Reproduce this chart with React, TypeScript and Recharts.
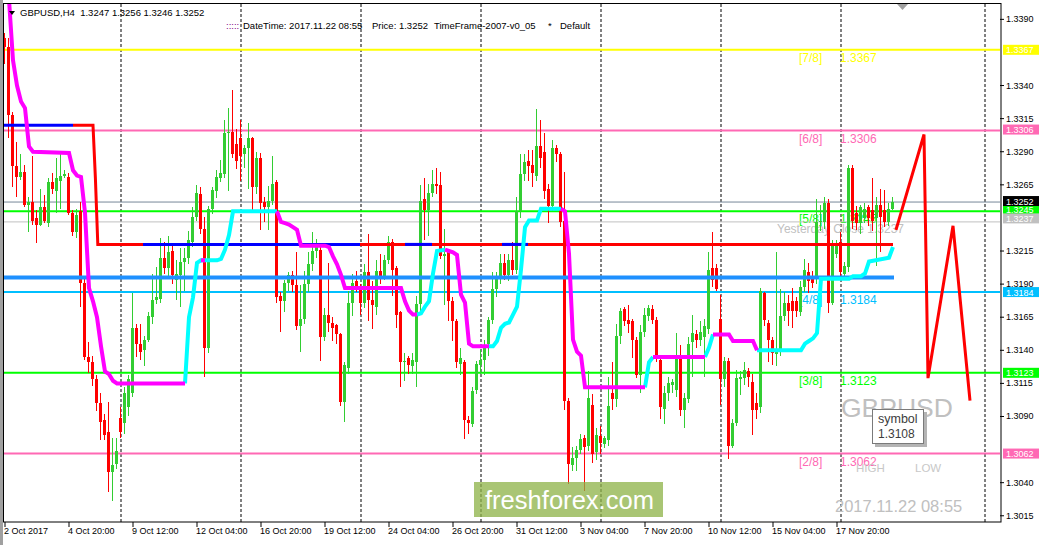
import React from "react";
import { ComposedChart, Bar, Line, XAxis, YAxis, ReferenceLine } from "recharts";

const W = 1043;
const H = 545;
const FONT = '"Liberation Sans", Arial, Helvetica, sans-serif';

// GBPUSD H4 bars from 2 Oct 2017 04:00, [open, high, low, close]
const candles: number[][] = [
  // 2 Oct
  [1.3376, 1.3380, 1.3356, 1.3369], [1.3369, 1.3376, 1.3300, 1.3318], [1.3318, 1.3320, 1.3263, 1.3279], [1.3279, 1.3297, 1.3256, 1.3271], [1.3271, 1.3288, 1.3269, 1.3275],
  // 3 Oct
  [1.3275, 1.3280, 1.3248, 1.3250], [1.3250, 1.3256, 1.3229, 1.3252], [1.3252, 1.3287, 1.3235, 1.3238], [1.3240, 1.3246, 1.3221, 1.3235], [1.3235, 1.3262, 1.3234, 1.3248], [1.3248, 1.3257, 1.3236, 1.3238],
  // 4 Oct
  [1.3236, 1.3270, 1.3233, 1.3267], [1.3267, 1.3274, 1.3258, 1.3262], [1.3260, 1.3285, 1.3244, 1.3270], [1.3268, 1.3288, 1.3247, 1.3272], [1.3272, 1.3276, 1.3270, 1.3273], [1.3271, 1.3274, 1.3242, 1.3244],
  // 5 Oct
  [1.3244, 1.3246, 1.3226, 1.3229], [1.3229, 1.3247, 1.3225, 1.3242], [1.3245, 1.3252, 1.3173, 1.3191], [1.3191, 1.3195, 1.3133, 1.3135], [1.3135, 1.3146, 1.3123, 1.3131], [1.3131, 1.3136, 1.3113, 1.3118],
  // 6 Oct
  [1.3118, 1.3121, 1.3094, 1.3100], [1.3100, 1.3108, 1.3072, 1.3086], [1.3087, 1.3092, 1.3072, 1.3076], [1.3078, 1.3101, 1.3033, 1.3048], [1.3048, 1.3074, 1.3026, 1.3053], [1.3054, 1.3074, 1.3050, 1.3064],
  // 9 Oct
  [1.3089, 1.3097, 1.3074, 1.3078], [1.3085, 1.3112, 1.3077, 1.3108], [1.3097, 1.3121, 1.3090, 1.3118], [1.3108, 1.3183, 1.3105, 1.3157], [1.3157, 1.3160, 1.3135, 1.3145], [1.3145, 1.3160, 1.3133, 1.3139],
  // 10 Oct
  [1.3140, 1.3151, 1.3128, 1.3148], [1.3148, 1.3169, 1.3146, 1.3166], [1.3165, 1.3198, 1.3160, 1.3178], [1.3178, 1.3203, 1.3175, 1.3180], [1.3179, 1.3225, 1.3176, 1.3210], [1.3210, 1.3222, 1.3198, 1.3202],
  // 11 Oct
  [1.3202, 1.3226, 1.3195, 1.3214], [1.3215, 1.3219, 1.3190, 1.3197], [1.3193, 1.3208, 1.3178, 1.3198], [1.3197, 1.3217, 1.3173, 1.3207], [1.3207, 1.3217, 1.3185, 1.3210], [1.3210, 1.3230, 1.3205, 1.3223],
  // 12 Oct
  [1.3222, 1.3248, 1.3218, 1.3241], [1.3241, 1.3265, 1.3238, 1.3259], [1.3258, 1.3263, 1.3228, 1.3232], [1.3232, 1.3241, 1.3120, 1.3142], [1.3142, 1.3249, 1.3138, 1.3247], [1.3247, 1.3263, 1.3243, 1.3261],
  // 13 Oct
  [1.3260, 1.3276, 1.3255, 1.3271], [1.3270, 1.3284, 1.3267, 1.3274], [1.3273, 1.3314, 1.3270, 1.3304], [1.3304, 1.3323, 1.3260, 1.3305], [1.3305, 1.3337, 1.3285, 1.3288], [1.3296, 1.3307, 1.3277, 1.3283],
  // 16 Oct
  [1.3300, 1.3314, 1.3268, 1.3287], [1.3288, 1.3295, 1.3278, 1.3293], [1.3293, 1.3312, 1.3262, 1.3300], [1.3300, 1.3301, 1.3246, 1.3263], [1.3263, 1.3290, 1.3258, 1.3285], [1.3285, 1.3289, 1.3231, 1.3251],
  // 17 Oct
  [1.3252, 1.3256, 1.3237, 1.3248], [1.3248, 1.3264, 1.3231, 1.3253], [1.3253, 1.3287, 1.3250, 1.3266], [1.3267, 1.3269, 1.3176, 1.3180], [1.3181, 1.3184, 1.3154, 1.3177], [1.3177, 1.3193, 1.3169, 1.3191],
  // 18 Oct
  [1.3191, 1.3199, 1.3185, 1.3197], [1.3197, 1.3200, 1.3184, 1.3189], [1.3189, 1.3214, 1.3155, 1.3158], [1.3158, 1.3189, 1.3139, 1.3164], [1.3164, 1.3200, 1.3160, 1.3190], [1.3190, 1.3214, 1.3184, 1.3205],
  // 19 Oct
  [1.3205, 1.3229, 1.3200, 1.3215], [1.3215, 1.3224, 1.3210, 1.3218], [1.3216, 1.3221, 1.3132, 1.3150], [1.3150, 1.3172, 1.3147, 1.3167], [1.3167, 1.3206, 1.3154, 1.3161], [1.3161, 1.3165, 1.3147, 1.3157],
  // 20 Oct
  [1.3159, 1.3160, 1.3145, 1.3152], [1.3152, 1.3153, 1.3098, 1.3101], [1.3101, 1.3131, 1.3086, 1.3129], [1.3127, 1.3185, 1.3122, 1.3176], [1.3176, 1.3198, 1.3166, 1.3191], [1.3192, 1.3200, 1.3184, 1.3188],
  // 23 Oct
  [1.3188, 1.3190, 1.3167, 1.3176], [1.3176, 1.3205, 1.3172, 1.3199], [1.3199, 1.3228, 1.3162, 1.3178], [1.3178, 1.3192, 1.3156, 1.3174], [1.3173, 1.3208, 1.3167, 1.3200], [1.3200, 1.3213, 1.3190, 1.3196],
  // 24 Oct
  [1.3196, 1.3212, 1.3193, 1.3208], [1.3208, 1.3226, 1.3205, 1.3222], [1.3222, 1.3224, 1.3181, 1.3201], [1.3202, 1.3204, 1.3157, 1.3167], [1.3169, 1.3170, 1.3112, 1.3131], [1.3131, 1.3138, 1.3117, 1.3132],
  // 25 Oct
  [1.3134, 1.3136, 1.3122, 1.3129], [1.3128, 1.3138, 1.3122, 1.3133], [1.3131, 1.3181, 1.3112, 1.3175], [1.3175, 1.3265, 1.3170, 1.3253], [1.3254, 1.3270, 1.3223, 1.3246], [1.3246, 1.3266, 1.3226, 1.3259],
  // 26 Oct
  [1.3259, 1.3276, 1.3256, 1.3266], [1.3266, 1.3278, 1.3258, 1.3264], [1.3265, 1.3275, 1.3209, 1.3211], [1.3211, 1.3232, 1.3174, 1.3213], [1.3214, 1.3216, 1.3162, 1.3177], [1.3177, 1.3180, 1.3147, 1.3162],
  // 27 Oct
  [1.3162, 1.3164, 1.3127, 1.3131], [1.3130, 1.3142, 1.3121, 1.3134], [1.3131, 1.3133, 1.3073, 1.3087], [1.3087, 1.3090, 1.3077, 1.3085], [1.3084, 1.3112, 1.3082, 1.3109], [1.3110, 1.3132, 1.3107, 1.3130],
  // 30 Oct
  [1.3129, 1.3140, 1.3122, 1.3133], [1.3133, 1.3148, 1.3121, 1.3143], [1.3145, 1.3165, 1.3136, 1.3163], [1.3163, 1.3199, 1.3160, 1.3186], [1.3186, 1.3199, 1.3180, 1.3194], [1.3196, 1.3213, 1.3190, 1.3206],
  // 31 Oct
  [1.3206, 1.3213, 1.3193, 1.3197], [1.3197, 1.3213, 1.3192, 1.3208], [1.3208, 1.3222, 1.3197, 1.3201], [1.3201, 1.3256, 1.3198, 1.3245], [1.3245, 1.3288, 1.3240, 1.3273], [1.3273, 1.3288, 1.3268, 1.3282],
  // 1 Nov
  [1.3283, 1.3291, 1.3268, 1.3279], [1.3280, 1.3291, 1.3263, 1.3274], [1.3272, 1.3322, 1.3268, 1.3294], [1.3294, 1.3314, 1.3278, 1.3285], [1.3290, 1.3304, 1.3254, 1.3260], [1.3262, 1.3266, 1.3236, 1.3249],
  // 2 Nov
  [1.3249, 1.3299, 1.3245, 1.3293], [1.3293, 1.3295, 1.3282, 1.3288], [1.3288, 1.3290, 1.3233, 1.3237], [1.3238, 1.3275, 1.3095, 1.3102], [1.3102, 1.3104, 1.3039, 1.3054], [1.3053, 1.3067, 1.3049, 1.3059],
  // 3 Nov
  [1.3059, 1.3068, 1.3049, 1.3065], [1.3065, 1.3077, 1.3062, 1.3073], [1.3074, 1.3076, 1.3034, 1.3067], [1.3068, 1.3124, 1.3064, 1.3104], [1.3099, 1.3107, 1.3055, 1.3062], [1.3063, 1.3081, 1.3057, 1.3076],
  // 6 Nov
  [1.3075, 1.3083, 1.3062, 1.3070], [1.3069, 1.3075, 1.3066, 1.3074], [1.3072, 1.3120, 1.3068, 1.3098], [1.3108, 1.3131, 1.3095, 1.3103], [1.3103, 1.3160, 1.3097, 1.3151], [1.3151, 1.3172, 1.3145, 1.3170],
  // 7 Nov
  [1.3171, 1.3173, 1.3158, 1.3162], [1.3163, 1.3174, 1.3153, 1.3160], [1.3162, 1.3164, 1.3134, 1.3148], [1.3148, 1.3150, 1.3119, 1.3121], [1.3121, 1.3159, 1.3108, 1.3154], [1.3154, 1.3172, 1.3150, 1.3167],
  // 8 Nov
  [1.3166, 1.3174, 1.3162, 1.3172], [1.3171, 1.3174, 1.3160, 1.3163], [1.3163, 1.3165, 1.3131, 1.3135], [1.3133, 1.3135, 1.3088, 1.3097], [1.3096, 1.3113, 1.3084, 1.3108], [1.3108, 1.3120, 1.3102, 1.3115],
  // 9 Nov
  [1.3114, 1.3118, 1.3108, 1.3116], [1.3110, 1.3153, 1.3105, 1.3136], [1.3136, 1.3144, 1.3090, 1.3095], [1.3095, 1.3108, 1.3081, 1.3104], [1.3103, 1.3150, 1.3100, 1.3145], [1.3146, 1.3167, 1.3120, 1.3153],
  // 10 Nov
  [1.3152, 1.3155, 1.3142, 1.3148], [1.3148, 1.3162, 1.3143, 1.3154], [1.3150, 1.3164, 1.3120, 1.3158], [1.3156, 1.3214, 1.3152, 1.3201], [1.3202, 1.3229, 1.3188, 1.3193], [1.3202, 1.3205, 1.3185, 1.3186],
  // 13 Nov
  [1.3164, 1.3182, 1.3099, 1.3118], [1.3118, 1.3135, 1.3112, 1.3132], [1.3132, 1.3134, 1.3058, 1.3068], [1.3068, 1.3088, 1.3066, 1.3085], [1.3085, 1.3125, 1.3083, 1.3119], [1.3118, 1.3124, 1.3106, 1.3120],
  // 14 Nov
  [1.3119, 1.3131, 1.3114, 1.3125], [1.3124, 1.3127, 1.3112, 1.3120], [1.3116, 1.3122, 1.3076, 1.3095], [1.3100, 1.3108, 1.3088, 1.3095], [1.3097, 1.3187, 1.3093, 1.3185], [1.3183, 1.3184, 1.3158, 1.3163],
  // 15 Nov
  [1.3161, 1.3163, 1.3131, 1.3148], [1.3148, 1.3150, 1.3129, 1.3138], [1.3137, 1.3214, 1.3128, 1.3140], [1.3139, 1.3186, 1.3136, 1.3166], [1.3166, 1.3184, 1.3162, 1.3176], [1.3176, 1.3182, 1.3158, 1.3170],
  // 16 Nov
  [1.3177, 1.3187, 1.3157, 1.3170], [1.3177, 1.3180, 1.3165, 1.3170], [1.3169, 1.3192, 1.3166, 1.3188], [1.3188, 1.3209, 1.3184, 1.3201], [1.3199, 1.3206, 1.3183, 1.3192], [1.3196, 1.3200, 1.3187, 1.3191],
  // 17 Nov
  [1.3194, 1.3254, 1.3190, 1.3237], [1.3237, 1.3250, 1.3230, 1.3238], [1.3237, 1.3256, 1.3232, 1.3251], [1.3251, 1.3254, 1.3168, 1.3176], [1.3176, 1.3223, 1.3174, 1.3221], [1.3213, 1.3223, 1.3210, 1.3219],
  // 20 Nov
  [1.3222, 1.3229, 1.3193, 1.3199], [1.3198, 1.3207, 1.3195, 1.3204], [1.3203, 1.3280, 1.3199, 1.3278], [1.3278, 1.3280, 1.3232, 1.3238], [1.3244, 1.3249, 1.3231, 1.3236], [1.3236, 1.3250, 1.3228, 1.3248],
  // 21 Nov
  [1.3240, 1.3251, 1.3236, 1.3247], [1.3248, 1.3250, 1.3234, 1.3240], [1.3246, 1.3270, 1.3230, 1.3238], [1.3240, 1.3256, 1.3204, 1.3250], [1.3250, 1.3262, 1.3214, 1.3241], [1.3246, 1.3261, 1.3233, 1.3237],
  // 22 Nov
  [1.3237, 1.3251, 1.3234, 1.3247], [1.3247, 1.3256, 1.3246, 1.3252],
];

const timeTicks = [0, 16, 32, 48, 64, 80, 96, 112, 128, 144, 160, 176, 192, 208];
const timeLabels = [
  "2 Oct 2017", "4 Oct 20:00", "9 Oct 12:00", "12 Oct 04:00", "16 Oct 20:00", "19 Oct 12:00", "24 Oct 04:00",
  "26 Oct 20:00", "31 Oct 12:00", "3 Nov 04:00", "7 Nov 20:00", "10 Nov 12:00", "15 Nov 04:00", "17 Nov 20:00",
];
const priceTicks = [1.3015, 1.304, 1.309, 1.3115, 1.314, 1.3165, 1.319, 1.3215, 1.3265, 1.329, 1.3315, 1.334, 1.339];
const weekStarts = [29, 59, 89, 119, 149, 179, 209, 245];

const murreyNames = ["[7/8]", "[6/8]", "[5/8]", "[4/8]", "[3/8]", "[2/8]"];
const murreyLevels = [1.3367, 1.3306, 1.3245, 1.3184, 1.3123, 1.3062];
const murreyColors = ["#ffff00", "#ff69b4", "#00ff00", "#00bfff", "#00ff00", "#ff69b4"];
const murreyTagShift = [0, -1, -2, 0, 0, 0];
const bidPrice = 1.3252;
const yesterdayClose = 1.3237;
const pivotLevel = 1.3195;

// supertrend, [bar, price] vertices
const trendDown: number[][][] = [
  [[0, 1.342], [1, 1.3405], [2, 1.3359], [3, 1.334], [4, 1.3328], [5, 1.3323], [6, 1.3294], [7, 1.329], [16, 1.3289], [17, 1.3276], [18, 1.3272], [19, 1.3271], [20, 1.3244], [21, 1.3187], [22, 1.3177], [23, 1.3165], [24, 1.3143], [25, 1.3124], [26, 1.3122], [27, 1.3117], [28, 1.3115], [45, 1.3115]],
  [[49, 1.3208], [50, 1.3208]],
  [[68, 1.3245], [69, 1.3237], [70, 1.3236], [71, 1.3235], [72, 1.3233], [73, 1.3231], [74, 1.3219], [80, 1.3219], [81, 1.3218], [82, 1.3211], [83, 1.3205], [84, 1.3197], [85, 1.3187], [99, 1.3187], [100, 1.3177], [101, 1.317], [102, 1.3167], [103, 1.3167]],
  [[110, 1.3216], [111, 1.3215], [112, 1.3214], [113, 1.3212], [114, 1.3182], [115, 1.3176], [116, 1.3145], [117, 1.3143], [121, 1.3143]],
  [[139, 1.3247], [140, 1.3245], [141, 1.3213], [142, 1.3148], [143, 1.3139], [144, 1.3136], [145, 1.3112], [160, 1.3112]],
  [[162, 1.3135], [175, 1.3135]],
  [[177, 1.3152], [181, 1.3152], [182, 1.3147], [187, 1.3147], [188, 1.314]],
];
const trendUp: number[][][] = [
  [[45, 1.3115], [46, 1.3165], [47, 1.318], [48, 1.3206], [49, 1.3208], [53, 1.3208], [54, 1.3209], [55, 1.3216], [56, 1.3227], [57, 1.3245], [68, 1.3245]],
  [[103, 1.3167], [104, 1.3168], [105, 1.3173], [106, 1.3177], [107, 1.3198], [108, 1.3215], [110, 1.3216]],
  [[121, 1.3143], [122, 1.3143], [123, 1.3147], [124, 1.3157], [125, 1.316], [126, 1.3161], [127, 1.3167], [128, 1.3173], [129, 1.3201], [130, 1.3233], [131, 1.3238], [133, 1.3238], [134, 1.3247], [139, 1.3247]],
  [[160, 1.3112], [161, 1.3131], [162, 1.3135]],
  [[175, 1.3135], [176, 1.3142], [177, 1.3152]],
  [[188, 1.314], [199, 1.314], [200, 1.3145], [201, 1.3147], [202, 1.3149], [203, 1.3153], [204, 1.3194], [211, 1.3194], [212, 1.3196], [214, 1.3196], [215, 1.3198], [216, 1.3207], [221, 1.321], [222, 1.3218]],
];

// level line (red with blue stretches)
const levelRed = [[17, 1.331], [22, 1.331], [22.6, 1.327], [23.2, 1.322], [222, 1.322]];
const levelBlue = [
  [[-0.25, 1.331], [17, 1.331]],
  [[34.5, 1.322], [88.75, 1.322]],
  [[100, 1.322], [106.75, 1.322]],
  [[124.25, 1.322], [130.75, 1.322]],
];
const pivotSpan = [[-0.25, pivotLevel], [222.25, pivotLevel]];
const forecast = [[222.75, 1.3231], [229.75, 1.3303], [230.75, 1.3119], [237, 1.3234], [241.25, 1.3102]];

const X_DOMAIN = [-0.25, 248.75];
const Y_DOMAIN = [1.30103, 1.34016];

const pts = (list: number[][]) => list.map(([i, v]) => ({ i, v }));

function Candle(props: any) {
  const { x, y, width, height, payload } = props;
  if (x == null || !payload) return null;
  const [o, h, l, c] = payload.ohlc;
  const color = c >= o ? "#32cd32" : "#ff0000";
  const k = h > l ? height / (h - l) : 0;
  const yo = y + (h - o) * k;
  const yc = y + (h - c) * k;
  const bx = Math.round(x + width / 2 - 1.5);
  const top = Math.round(Math.min(yo, yc));
  const bh = Math.max(1, Math.round(Math.max(yo, yc)) - top);
  const wt = Math.round(y);
  const wh = Math.max(1, Math.round(y + height) - wt);
  return (
    <g shapeRendering="crispEdges">
      <rect x={bx + 1} y={wt} width={1} height={wh} fill={color} />
      <rect x={bx} y={top} width={3} height={bh} fill={color} />
    </g>
  );
}

function TimeTick(props: any) {
  const { x, y, payload } = props;
  const k = timeTicks.indexOf(payload.value);
  return (
    <text x={x - 1} y={y + 5} fontSize={9} fontFamily={FONT} fill="#000" textAnchor="start">
      {timeLabels[k]}
    </text>
  );
}

function PriceTick(props: any) {
  const { x, y, payload } = props;
  return (
    <text x={x} y={y + 3} fontSize={9} fontFamily={FONT} fill="#000" textAnchor="start">
      {payload.value.toFixed(4)}
    </text>
  );
}

function tag(y: number, bg: string, text: string) {
  return (
    <g>
      <rect x={1003} y={y - 5} width={36} height={10} fill={bg} />
      <text x={1006} y={y + 3.5} fontSize={9} fontFamily={FONT} fill="#fff">{text}</text>
    </g>
  );
}

const murreyLabel = (k: number) => (p: any) => {
  const vb = p.viewBox || {};
  const y = vb.y;
  const x0 = vb.x;
  return (
    <g>
      <text x={x0 + 795} y={y + 12} fontSize={12} fontFamily={FONT} fill={murreyColors[k]}>{murreyNames[k]}</text>
      <text x={x0 + 836} y={y + 12} fontSize={12} fontFamily={FONT} fill={murreyColors[k]}>{murreyLevels[k].toFixed(4)}</text>
      {tag(y + murreyTagShift[k], murreyColors[k], murreyLevels[k].toFixed(4))}
    </g>
  );
};

const bidLabel = (p: any) => tag(p.viewBox.y - 1, "#000000", bidPrice.toFixed(4));
const yesterdayLabel = (p: any) => (
  <g>
    <text x={p.viewBox.x + 773} y={p.viewBox.y + 11} fontSize={12} fontFamily={FONT} fill="#c0c0c0">
      {"Yesterday Close " + yesterdayClose.toFixed(4)}
    </text>
    {tag(p.viewBox.y - 3.5, "#c0c0c0", yesterdayClose.toFixed(4))}
  </g>
);

export default function App() {
  const rows = candles.map((c, i) => ({ i, ohlc: c, range: [c[2], c[1]] }));
  return (
    <div style={{ position: "relative", width: W, height: H, background: "#fff", fontFamily: FONT }}>
      <style>{"body{margin:0}"}</style>
      <ComposedChart width={W} height={H} data={rows} margin={{ top: 4, right: 0, bottom: 0, left: 4 }}>
        <XAxis
          dataKey="i"
          type="number"
          domain={X_DOMAIN}
          allowDataOverflow
          ticks={timeTicks}
          interval={0}
          tick={<TimeTick />}
          tickSize={5}
          tickLine={{ stroke: "#000" }}
          axisLine={false}
          height={23}
        />
        <XAxis xAxisId="ov" dataKey="i" type="number" domain={X_DOMAIN} allowDataOverflow hide />
        <YAxis
          orientation="right"
          type="number"
          domain={Y_DOMAIN}
          allowDataOverflow
          ticks={priceTicks}
          interval={0}
          tick={<PriceTick />}
          tickSize={4}
          tickLine={{ stroke: "#000" }}
          axisLine={false}
          width={43}
        />
        {weekStarts.map((w) => (
          <ReferenceLine key={"w" + w} x={w} stroke="#000" strokeDasharray="3 2" zIndex={-50} />
        ))}
        {murreyLevels.map((v, k) => (
          <ReferenceLine key={"m" + k} y={v} stroke={murreyColors[k]} strokeWidth={2} label={murreyLabel(k)} zIndex={-40} />
        ))}
        <ReferenceLine y={bidPrice} stroke="#778899" strokeWidth={1} label={bidLabel} zIndex={-40} />
        <ReferenceLine y={yesterdayClose} stroke="#c0c0c0" strokeWidth={1} label={yesterdayLabel} zIndex={-40} />

        <Bar dataKey="range" barSize={3} shape={<Candle />} isAnimationActive={false} />

        <Line xAxisId="ov" data={pts(pivotSpan)} dataKey="v" stroke="#1e90ff" strokeWidth={4} dot={false} activeDot={false} isAnimationActive={false} />
        <Line xAxisId="ov" data={pts(levelRed)} dataKey="v" stroke="#ff0000" strokeWidth={3} dot={false} activeDot={false} isAnimationActive={false} />
        {levelBlue.map((s, k) => (
          <Line key={"lb" + k} xAxisId="ov" data={pts(s)} dataKey="v" stroke="#0000ff" strokeWidth={3} dot={false} activeDot={false} isAnimationActive={false} />
        ))}
        {trendUp.map((s, k) => (
          <Line key={"tu" + k} xAxisId="ov" data={pts(s)} dataKey="v" stroke="#00ffff" strokeWidth={4} dot={false} activeDot={false} isAnimationActive={false} />
        ))}
        {trendDown.map((s, k) => (
          <Line key={"td" + k} xAxisId="ov" data={pts(s)} dataKey="v" stroke="#ff00ff" strokeWidth={4} dot={false} activeDot={false} isAnimationActive={false} />
        ))}
        <Line xAxisId="ov" data={pts(forecast)} dataKey="v" stroke="#ff0000" strokeWidth={3} dot={false} activeDot={false} isAnimationActive={false} />
      </ComposedChart>

      <svg width={W} height={H} style={{ position: "absolute", left: 0, top: 0, pointerEvents: "none" }} fontFamily={FONT}>
        <rect x={0} y={0} width={3} height={H} fill="#a0a0a0" />
        <rect x={3.5} y={3.5} width={997.5} height={518.5} fill="none" stroke="#000" strokeWidth={1} />
        <polygon points="897,4 908,4 902.5,10" fill="#a0a0a0" />

        <polygon points="9,11 15,11 12,15" fill="#000" />
        <text x={20} y={16} fontSize={9.5} fill="#000" style={{ whiteSpace: "pre" }}>GBPUSD,H4  1.3247 1.3256 1.3246 1.3252</text>
        <text x={226} y={29} fontSize={9.5} fill="#800080">:::::</text>
        <text x={243} y={29} fontSize={9.5} fill="#000">DateTime: 2017.11.22 08:55</text>
        <text x={372} y={29} fontSize={9.5} fill="#000">Price: 1.3252</text>
        <text x={434} y={29} fontSize={9.5} fill="#000">TimeFrame-2007-v0_05</text>
        <text x={548} y={29} fontSize={9.5} fill="#000">*</text>
        <text x={560} y={29} fontSize={9.5} fill="#000">Default</text>

        <text x={841} y={417} fontSize={26.5} fill="#c0c0c0">GBPUSD</text>
        <rect x={875} y={412} width={52} height={35} fill="#b4b4b4" />
        <rect x={872.5} y={409.5} width={51} height={34} fill="#fff" stroke="#7a7a7a" />
        <text x={878} y={423} fontSize={12.5} fill="#3c3c3c">symbol</text>
        <text x={878} y={438} fontSize={12} fill="#3c3c3c">1.3108</text>
        <text x={856} y={471.5} fontSize={11.5} fill="#c8c8c8">HIGH</text>
        <text x={915} y={471.5} fontSize={11.5} fill="#c8c8c8">LOW</text>
        <text x={835} y={511.5} fontSize={16.5} fill="#c0c0c0">2017.11.22 08:55</text>

        <rect x={474} y={482} width={189} height={35} fill="rgba(140,178,70,0.75)" />
        <text x={485} y={509} fontSize={26} fill="#fff" textLength={169} lengthAdjust="spacingAndGlyphs">freshforex.com</text>
      </svg>
    </div>
  );
}
